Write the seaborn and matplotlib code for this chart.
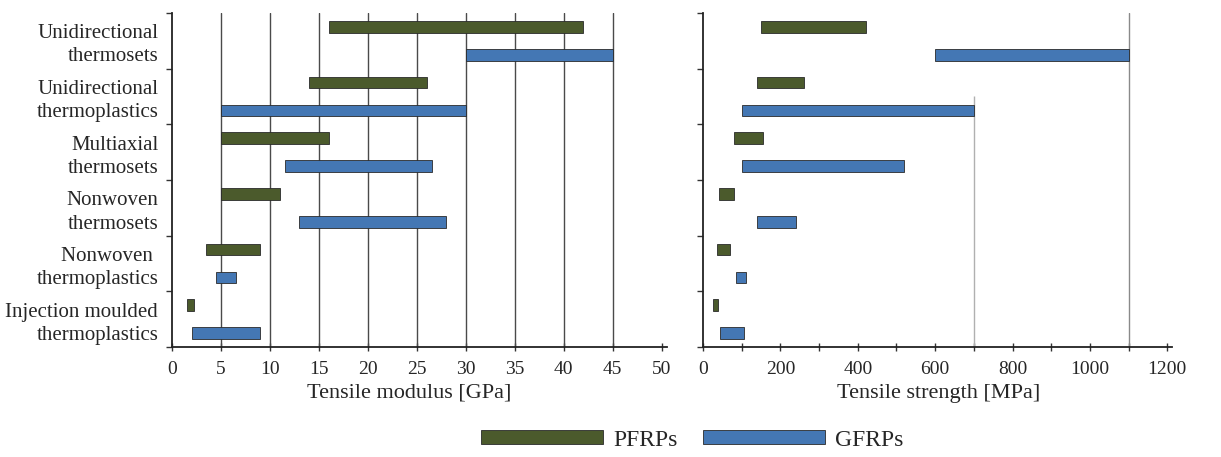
import matplotlib
matplotlib.use('Agg')
import matplotlib.pyplot as plt
import matplotlib.patches as mpatches
import numpy as np
import pandas as pd
import seaborn as sns

# categories (top to bottom)
categories = ['Unidirectional\nthermosets', 'Unidirectional\nthermoplastics',
              'Multiaxial\nthermosets', 'Nonwoven\nthermosets',
              'Nonwoven \nthermoplastics', 'Injection moulded\nthermoplastics']

# tensile modulus ranges [GPa]
pfrp_mod_lo = [16, 14, 5, 5, 3.5, 1.5]
pfrp_mod_hi = [42, 26, 16, 11, 9, 2.2]
gfrp_mod_lo = [30, 5, 11.5, 13, 4.5, 2]
gfrp_mod_hi = [45, 30, 26.5, 28, 6.5, 9]

# tensile strength ranges [MPa]
pfrp_str_lo = [150, 140, 80, 40, 35, 25]
pfrp_str_hi = [420, 260, 155, 80, 70, 38]
gfrp_str_lo = [600, 100, 100, 140, 85, 45]
gfrp_str_hi = [1100, 700, 520, 240, 110, 105]

series = ['PFRPs', 'GFRPs']
colors = {'PFRPs': '#4b5a2c', 'GFRPs': '#4477b4'}

rows = []
for i, cat in enumerate(categories):
    rows.append(dict(cat=cat, idx=i, series='PFRPs', mod_lo=pfrp_mod_lo[i], mod_hi=pfrp_mod_hi[i],
                     str_lo=pfrp_str_lo[i], str_hi=pfrp_str_hi[i]))
    rows.append(dict(cat=cat, idx=i, series='GFRPs', mod_lo=gfrp_mod_lo[i], mod_hi=gfrp_mod_hi[i],
                     str_lo=gfrp_str_lo[i], str_hi=gfrp_str_hi[i]))
df = pd.DataFrame(rows)
df['ypos'] = df['idx'] + np.where(df['series'] == 'PFRPs', 0.25, 0.75)

sns.set_theme(style='white')
plt.rcParams['font.family'] = ['Liberation Serif', 'DejaVu Serif']

fig = plt.figure(figsize=(12.21, 4.57), dpi=100)
ax1 = fig.add_axes([0.1409, 0.2407, 0.405, 0.731])
ax2 = fig.add_axes([0.5758, 0.2407, 0.384, 0.731])

bar_h = 0.21
for ax, lo, hi in [(ax1, 'mod_lo', 'mod_hi'), (ax2, 'str_lo', 'str_hi')]:
    for s in series:
        d = df[df['series'] == s]
        ax.barh(d['ypos'], d[hi] - d[lo], left=d[lo], height=bar_h,
                color=colors[s], edgecolor='#2a2a2a', linewidth=0.6, zorder=3)
    ax.set_ylim(len(categories), 0)
    ax.set_yticks(np.arange(len(categories) + 1), minor=True)
    ax.set_yticks([])
    for sp in ['top', 'right']:
        ax.spines[sp].set_visible(False)
    for sp in ['left', 'bottom']:
        ax.spines[sp].set_color('#222222')
        ax.spines[sp].set_linewidth(1.3)
    ax.tick_params(axis='y', which='minor', left=True, length=4, width=1, color='#333333', direction='out')
    ax.tick_params(axis='x', which='both', bottom=True, length=6, width=1, color='#333333',
                   direction='inout', labelsize=14, pad=7)

# left panel
ax1.set_xlim(0, 50.5)
ax1.set_xticks(np.arange(0, 51, 5))
ax1.set_yticks(np.arange(len(categories)) + 0.5)
ax1.set_yticklabels(categories, fontsize=15, ha='right', linespacing=1.3)
ax1.tick_params(axis='y', which='major', left=False, pad=4)
for v in np.arange(5, 50, 5):
    ax1.axvline(v, color='#4a4a4a', linewidth=1.0, zorder=1)
ax1.set_xlabel('Tensile modulus [GPa]', fontsize=16)
ax1.xaxis.set_label_coords(0.48, -0.11)

# right panel
ax2.set_xlim(0, 1212)
ax2.set_xticks(np.arange(0, 1201, 200))
ax2.set_xticks(np.arange(0, 1201, 100), minor=True)
ax2.axvline(1100, color='#8a8a8a', linewidth=1.0, zorder=1)
ax2.vlines(700, 1.5, len(categories), color='#b0b0b0', linewidth=1.0, zorder=1)
ax2.set_xlabel('Tensile strength [MPa]', fontsize=16)
ax2.xaxis.set_label_coords(0.503, -0.11)

handles = [mpatches.Patch(facecolor=colors[s], edgecolor='#2a2a2a', linewidth=0.6, label=s) for s in series]
fig.legend(handles=handles, loc='center', bbox_to_anchor=(0.567, 0.037), ncol=2, frameon=False,
           fontsize=17, handlelength=5.17, handleheight=0.5, columnspacing=1.1, handletextpad=0.42)

fig.savefig('out.png', dpi=100)
